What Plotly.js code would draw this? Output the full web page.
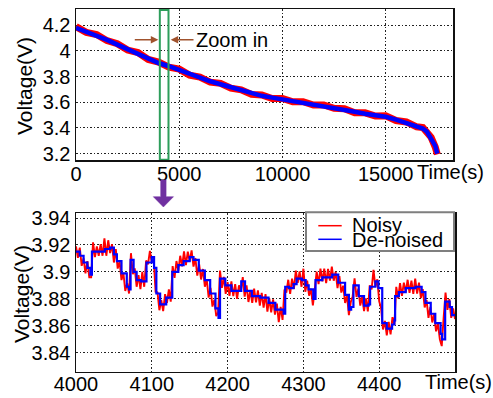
<!DOCTYPE html>
<html>
<head>
<meta charset="utf-8">
<script src="https://cdn.plot.ly/plotly-3.0.1.min.js"></script>
<style>
html,body{margin:0;padding:0;background:#fff;}
#chart{width:493px;height:398px;}
</style>
</head>
<body>
<div id="chart"></div>
<script>
// ---------- Top panel: full discharge ----------
const topTime = [0,500,1000,1500,2000,2500,3000,3500,4000,4500,5000,5500,6000,6500,7000,7500,8000,8500,9000,9500,10000,10500,11000,11500,12000,12500,13000,13500,14000,14500,15000,15500,16000,16500,16800,17000,17200,17400,17500];
const topDenoised = [4.178,4.150,4.120,4.085,4.048,4.013,3.978,3.940,3.905,3.880,3.850,3.818,3.788,3.763,3.740,3.716,3.690,3.668,3.650,3.636,3.623,3.610,3.597,3.585,3.572,3.560,3.543,3.526,3.511,3.500,3.487,3.465,3.440,3.416,3.396,3.370,3.320,3.260,3.200];
const topNoisy = [4.188,4.143,4.127,4.079,4.055,4.006,3.986,3.933,3.912,3.873,3.857,3.811,3.795,3.756,3.747,3.709,3.697,3.661,3.657,3.629,3.630,3.603,3.604,3.578,3.579,3.553,3.550,3.519,3.518,3.493,3.494,3.458,3.447,3.409,3.403,3.362,3.327,3.252,3.195];
const topXTicks = [0,5000,10000,15000];
const topXTickText = ['0','5000','10000','15000'];
const topYTicks = [3.2,3.4,3.6,3.8,4.0,4.2];
const topYTickText = ['3.2','3.4','3.6','3.8','4','4.2'];

// ---------- Bottom panel: zoom 4000-4500 s ----------
const zoomDenoisedTime = [4000,4005,4010,4015,4019,4021,4030,4038,4045,4050,4054,4060,4067,4070,4072,4076,4080,4086,4091,4093,4100,4103,4106,4111,4116,4119,4125,4127,4135,4142,4150,4155,4162,4170,4177,4184,4188,4190,4197,4205,4211,4217,4218,4223,4232,4243,4254,4263,4274,4276,4281,4287,4291,4298,4303,4307,4313,4316,4325,4338,4346,4355,4360,4363,4366,4373,4380,4386,4388,4395,4399,4404,4410,4417,4420,4421,4426,4435,4448,4456,4461,4468,4474,4481,4483,4487,4493,4496,4500];
const zoomDenoised = [3.915,3.912,3.907,3.903,3.898,3.915,3.915,3.917,3.918,3.913,3.908,3.899,3.889,3.887,3.909,3.900,3.894,3.893,3.893,3.907,3.911,3.903,3.884,3.876,3.876,3.881,3.881,3.900,3.905,3.908,3.911,3.909,3.901,3.894,3.884,3.873,3.866,3.895,3.890,3.886,3.886,3.886,3.893,3.886,3.882,3.881,3.877,3.872,3.869,3.889,3.888,3.891,3.895,3.894,3.890,3.887,3.880,3.894,3.896,3.898,3.892,3.883,3.872,3.874,3.890,3.882,3.875,3.876,3.889,3.893,3.888,3.862,3.858,3.861,3.864,3.882,3.885,3.888,3.889,3.885,3.877,3.869,3.862,3.854,3.850,3.878,3.874,3.868,3.868];
const zoomNoisyStart = 4000;   // s
const zoomNoisyStep = 2.5;     // s
const zoomNoisy = [
3.919,3.9105,3.918,3.9045,3.910,3.899,3.908,3.896,3.896,3.922,
3.911,3.919,3.912,3.9206,3.912,3.925,3.912,3.9235,3.914,3.9205,
3.907,3.917,3.9025,3.9078,3.894,3.8994,3.8859,3.8917,3.884,3.9139,
3.8983,3.9026,3.889,3.8976,3.8872,3.900,3.889,3.9085,3.9057,3.9156,
3.907,3.9093,3.8853,3.8848,3.8716,3.879,3.871,3.8835,3.877,3.887,
3.878,3.9043,3.8956,3.9081,3.901,3.912,3.9041,3.9152,3.9051,3.915,
3.908,3.916,3.904,3.9103,3.8973,3.9056,3.8944,3.9022,3.889,3.8944,
3.8809,3.8882,3.8743,3.8793,3.8673,3.8699,3.901,3.8882,3.8964,3.8838,
3.8925,3.8822,3.893,3.882,3.891,3.880,3.890,3.886,3.8962,3.8817,
3.8901,3.8777,3.8864,3.877,3.8877,3.8775,3.8863,3.875,3.8844,3.8735,
3.8835,3.8706,3.8804,3.870,3.8797,3.8683,3.8765,3.8628,3.8741,3.8644,
3.887,3.8847,3.8942,3.8838,3.895,3.8875,3.901,3.8919,3.9004,3.889,
3.9024,3.8853,3.8935,3.8824,3.8875,3.8752,3.887,3.9002,3.891,3.9025,
3.893,3.9024,3.8918,3.9022,3.8935,3.9039,3.8935,3.900,3.888,3.8969,
3.8847,3.8898,3.877,3.8825,3.868,3.8777,3.882,3.8953,3.8814,3.8876,
3.875,3.8815,3.871,3.8804,3.8708,3.890,3.8871,3.9016,3.889,3.8945,
3.8782,3.873,3.8573,3.8637,3.853,3.8629,3.8537,3.8665,3.8606,3.8889,
3.8804,3.8917,3.8823,3.8921,3.885,3.8942,3.8844,3.8936,3.8838,3.895,
3.884,3.892,3.8807,3.8872,3.8737,3.8792,3.866,3.8741,3.8625,3.8687,
3.8559,3.8617,3.8501,3.845,3.866,3.8847,3.8719,3.8799,3.866,3.873,
3.865];
const zoomXTicks = [4000,4100,4200,4300,4400];
const zoomXTickText = ['4000','4100','4200','4300','4400'];
const zoomYTicks = [3.84,3.86,3.88,3.90,3.92,3.94];
const zoomYTickText = ['3.84','3.86','3.88','3.9','3.92','3.94'];

const seriesNames = ['Noisy','De-noised'];
const zoomWindow = [4060,4480];

// ---------- drawing ----------
const W = 493, H = 398;
const px = x => x / W;
const py = y => 1 - y / H;
const FONT = 'Liberation Sans, Arial, Helvetica, sans-serif';
const RED = '#ff0000', BLUE = '#0000ff';

const traces = [
  {x: topTime, y: topNoisy, xaxis:'x', yaxis:'y', mode:'lines', name: seriesNames[0],
   line:{color:RED, width:7}, showlegend:false},
  {x: topTime, y: topDenoised, xaxis:'x', yaxis:'y', mode:'lines', name: seriesNames[1],
   line:{color:BLUE, width:4.5}, showlegend:false},
  {x0: zoomNoisyStart, dx: zoomNoisyStep, y: zoomNoisy, xaxis:'x2', yaxis:'y2', mode:'lines', name: seriesNames[0],
   line:{color:RED, width:1.9}, showlegend:false},
  {x: zoomDenoisedTime, y: zoomDenoised, xaxis:'x2', yaxis:'y2', mode:'lines', name: seriesNames[1],
   line:{color:BLUE, width:2.2, shape:'hv'}, showlegend:false}
];

const axisCommon = {
  showline:true, mirror:true, linecolor:'#111', linewidth:1.5,
  showgrid:true, gridcolor:'#222', gridwidth:1, griddash:'1.5px,2px',
  zeroline:false, ticks:'', tickmode:'array',
  tickfont:{family:FONT, size:20, color:'#000'}
};

const layout = {
  width:W, height:H, autosize:false,
  margin:{l:0,r:0,t:0,b:0},
  paper_bgcolor:'#fff', plot_bgcolor:'#fff',
  font:{family:FONT, size:20, color:'#000'},
  showlegend:false,
  xaxis: Object.assign({}, axisCommon, {domain:[px(76),px(453)], range:[0,18260], anchor:'y',
    tickvals: topXTicks, ticktext: topXTickText, ticklabelstandoff:-5}),
  yaxis: Object.assign({}, axisCommon, {domain:[py(160),py(9)], range:[3.151,4.325], anchor:'x',
    tickvals: topYTicks, ticktext: topYTickText}),
  xaxis2: Object.assign({}, axisCommon, {domain:[px(76),px(455)], range:[4000,4500], anchor:'y2',
    tickvals: zoomXTicks, ticktext: zoomXTickText, ticklabelstandoff:-6}),
  yaxis2: Object.assign({}, axisCommon, {domain:[py(371.7),py(213.3)], range:[3.826,3.9435], anchor:'x2',
    tickvals: zoomYTicks, ticktext: zoomYTickText}),
  shapes: [
    // zoom window on the top panel
    {type:'rect', xref:'x', yref:'y', x0:zoomWindow[0], x1:zoomWindow[1], y0:3.153, y1:4.317,
     line:{color:'#2e9e5b', width:2}, fillcolor:'rgba(0,0,0,0)'},
    // purple block arrow between panels
    {type:'path', xref:'paper', yref:'paper',
     path:'M'+px(160.7)+','+py(180)+' L'+px(160.7)+','+py(196.7)+' L'+px(153.3)+','+py(196.7)+
          ' L'+px(163.4)+','+py(207)+' L'+px(173.5)+','+py(196.7)+' L'+px(166.1)+','+py(196.7)+
          ' L'+px(166.1)+','+py(180)+' Z',
     fillcolor:'#7030a0', line:{color:'#7030a0', width:0.5}},
    // legend box
    {type:'rect', xref:'paper', yref:'paper', x0:px(306), x1:px(454), y0:py(251), y1:py(212.3),
     fillcolor:'#fff', line:{color:'#7f7f7f', width:2}},
    {type:'line', xref:'paper', yref:'paper', x0:px(318.3), x1:px(341.7), y0:py(225.7), y1:py(225.7),
     line:{color:RED, width:1.5}},
    {type:'line', xref:'paper', yref:'paper', x0:px(318.3), x1:px(341.7), y0:py(239.3), y1:py(239.3),
     line:{color:BLUE, width:1.5}}
  ],
  annotations: [
    {text:'Voltage(V)', xref:'paper', yref:'paper', x:px(25), y:py(86), textangle:-90,
     showarrow:false, xanchor:'center', yanchor:'middle', font:{family:FONT, size:21}},
    {text:'Voltage(V)', xref:'paper', yref:'paper', x:px(21), y:py(294), textangle:-90,
     showarrow:false, xanchor:'center', yanchor:'middle', font:{family:FONT, size:21}},
    {text:'Time(s)', xref:'paper', yref:'paper', x:px(450), y:py(172), showarrow:false,
     xanchor:'center', yanchor:'middle', font:{family:FONT, size:20}},
    {text:'Time(s)', xref:'paper', yref:'paper', x:px(458.5), y:py(382), showarrow:false,
     xanchor:'center', yanchor:'middle', font:{family:FONT, size:20}},
    {text:'Zoom in', xref:'x', yref:'y', x:5700, y:4.0856, showarrow:false,
     xanchor:'left', yanchor:'middle', font:{family:FONT, size:20}},
    {text:'', xref:'x', yref:'y', x:3986, y:4.0856, axref:'x', ayref:'y', ax:2775, ay:4.0856,
     showarrow:true, arrowhead:2, arrowsize:1, arrowwidth:1.5, arrowcolor:'#a0522d'},
    {text:'', xref:'x', yref:'y', x:4587, y:4.0856, axref:'x', ayref:'y', ax:5764, ay:4.0856,
     showarrow:true, arrowhead:2, arrowsize:1, arrowwidth:1.5, arrowcolor:'#a0522d'},
    {text: seriesNames[0], xref:'paper', yref:'paper', x:px(350), y:py(224.5), showarrow:false,
     xanchor:'left', yanchor:'middle', font:{family:FONT, size:20}},
    {text: seriesNames[1], xref:'paper', yref:'paper', x:px(350), y:py(240), showarrow:false,
     xanchor:'left', yanchor:'middle', font:{family:FONT, size:20}}
  ]
};

Plotly.newPlot('chart', traces, layout, {displayModeBar:false, staticPlot:true});
</script>
</body>
</html>
